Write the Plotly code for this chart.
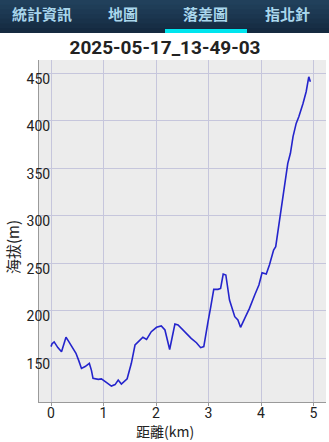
import plotly.graph_objects as go

# ---- data ----
dist_km = [0.00, 0.02, 0.06, 0.13, 0.20, 0.24, 0.285, 0.33, 0.39, 0.475, 0.53, 0.58,
           0.65, 0.73, 0.77, 0.80, 0.90, 0.96, 1.06, 1.15, 1.22, 1.28, 1.34, 1.45,
           1.53, 1.60, 1.66, 1.75, 1.82, 1.91, 2.01, 2.10, 2.17, 2.23, 2.26, 2.31,
           2.36, 2.42, 2.48, 2.58, 2.67, 2.77, 2.85, 2.91, 2.96, 2.99, 3.04, 3.10,
           3.18, 3.23, 3.28, 3.33, 3.40, 3.50, 3.56, 3.61, 3.69, 3.78, 3.88, 3.96,
           4.02, 4.10, 4.16, 4.24, 4.28, 4.34, 4.40, 4.47, 4.51, 4.56, 4.61, 4.67,
           4.72, 4.80, 4.86, 4.91, 4.94]
alt_m = [162, 165, 167, 161, 156.6, 163, 171.8, 168, 162, 155, 147, 139,
         141, 144.4, 137, 128.6, 127.5, 128, 124, 120.5, 122, 126.8, 122.6, 128.2,
         144.4, 163.7, 167, 171.8, 169.6, 177.7, 182.3, 183.7, 179.5, 165.5, 159, 172.4,
         185.8, 184.7, 181.3, 176, 170.7, 166.1, 160.9, 162, 176, 188, 203, 222.3,
         222.3, 223.3, 238.4, 237.4, 211, 193.5, 190, 182.3, 191.8, 202.3, 216.3, 226.8,
         239.8, 238.4, 247.9, 263.7, 267.2, 290, 312.8, 337.4, 354.9, 365.5, 383, 397,
         404, 418, 430.3, 446, 440.8]

x_ticks = [0, 1, 2, 3, 4, 5]
y_ticks = [150, 200, 250, 300, 350, 400, 450]
tabs = ["統計資訊", "地圖", "落差圖", "指北針"]
chart_title = "2025-05-17_13-49-03"
x_title = "距離(km)"
y_title = "海拔(m)"

W, H = 329, 442
ML, MR, MT, MB = 39, 3, 60, 40
PW, PH = W - ML - MR, H - MT - MB


def px2x(px):
    return (px - ML) / PW


def px2y(py):
    return (H - MB - py) / PH


fig = go.Figure()
fig.add_trace(go.Scatter(x=dist_km, y=alt_m, mode="lines",
                         line=dict(color="#2424cc", width=1.6),
                         hoverinfo="skip", showlegend=False))

shapes = []
# header bar (approximate vertical gradient with overlapping layers)
header_cols = ["#21405b", "#1f3d57", "#1d3953", "#1b364f", "#19324a", "#172e45", "#152a40"]
n = len(header_cols)
for i, c in enumerate(header_cols):
    y0 = 33 * i / n
    shapes.append(dict(type="rect", xref="paper", yref="paper",
                       x0=px2x(-2), x1=px2x(W + 2), y0=px2y(33), y1=px2y(y0 - (1 if i == 0 else 0)),
                       fillcolor=c, line=dict(width=0), layer="above"))
# active tab underline
shapes.append(dict(type="rect", xref="paper", yref="paper",
                   x0=px2x(165), x1=px2x(247), y0=px2y(33), y1=px2y(29),
                   fillcolor="#00e5ee", line=dict(width=0), layer="above"))

annotations = []
tab_x = [42, 123, 205, 287]
for t, tx in zip(tabs, tab_x):
    annotations.append(dict(text="<b>" + t + "</b>", xref="paper", yref="paper", x=px2x(tx), y=px2y(14),
                            xanchor="center", yanchor="middle", showarrow=False,
                            font=dict(family="Noto Sans CJK TC", size=15, color="#a9d6ec")))
annotations.append(dict(text=x_title, xref="paper", yref="paper", x=px2x(165), y=px2y(442),
                        xanchor="center", yanchor="bottom", showarrow=False, borderpad=0,
                        font=dict(family="Noto Sans CJK TC", size=14, color="#222222")))
annotations.append(dict(text=y_title, xref="paper", yref="paper", x=px2x(12), y=px2y(247),
                        xanchor="center", yanchor="middle", showarrow=False, textangle=-90,
                        font=dict(family="Noto Sans CJK TC", size=15, color="#222222")))

fig.update_layout(
    width=W, height=H,
    margin=dict(l=ML, r=MR, t=MT, b=MB),
    paper_bgcolor="white",
    plot_bgcolor="#ececec",
    title=dict(text="<b>" + chart_title + "</b>", x=165 / W, xanchor="center",
               y=1 - 47 / H, yanchor="middle",
               font=dict(family="Roboto", size=19, color="#222222")),
    shapes=shapes,
    annotations=annotations,
    xaxis=dict(range=[-0.229, 5.238], tickvals=x_ticks, ticktext=[str(v) for v in x_ticks],
               showgrid=True, gridcolor="#c6c6dc", gridwidth=1, zeroline=False,
               showline=True, linecolor="#9a9a9a", linewidth=1,
               ticks="outside", ticklen=3, tickcolor="#9a9a9a", ticklabelstandoff=-5,
               tickfont=dict(family="Roboto", size=14, color="#222222"), fixedrange=True),
    yaxis=dict(range=[103.7, 463.7], tickvals=y_ticks, ticktext=[str(v) for v in y_ticks],
               showgrid=True, gridcolor="#c6c6dc", gridwidth=1, zeroline=False,
               showline=True, linecolor="#9a9a9a", linewidth=1,
               ticks="", ticklabelstandoff=-15, ticklabelshift=6,
               tickfont=dict(family="Roboto", size=14, color="#222222"), fixedrange=True),
)

fig.write_html("out.html", config={"displayModeBar": False})
